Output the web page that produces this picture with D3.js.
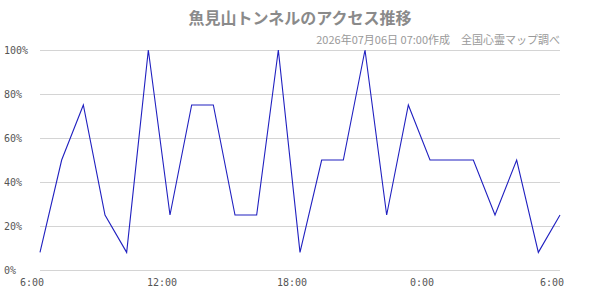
<!DOCTYPE html>
<html>
<head>
<meta charset="utf-8">
<script src="https://cdn.jsdelivr.net/npm/d3@7"></script>
<style>
  body { margin: 0; background: #fff; }
  svg { display: block; }
</style>
</head>
<body>
<div id="chart"></div>
<script>
// hourly access, 6:00 -> 6:00 next day
const hours = d3.range(0, 25);
const values = [8, 50, 75, 25, 8, 100, 25, 75, 75, 25, 25, 100, 8, 50, 50, 100, 25, 75, 50, 50, 50, 25, 50, 8, 25];
const yTicks = [0, 20, 40, 60, 80, 100];
const xTickPos = [0, 6, 12, 18, 24];
const xTickLabels = ["6:00", "12:00", "18:00", "0:00", "6:00"];
const title = "魚見山トンネルのアクセス推移";
const subtitle = "2026年07月06日 07:00作成　全国心霊マップ調べ";

const width = 600, height = 300;
const margin = { top: 50, right: 40, bottom: 30, left: 40 };

const svg = d3.select("#chart").append("svg")
    .attr("width", width)
    .attr("height", height);

const xScale = d3.scaleLinear().domain([0, 24]).range([margin.left, width - margin.right]);
const yScale = d3.scaleLinear().domain([0, 100]).range([height - margin.bottom, margin.top]);

// grid
svg.append("g")
    .selectAll("line")
    .data(yTicks)
    .join("line")
    .attr("x1", xScale(0))
    .attr("x2", xScale(24))
    .attr("y1", d => Math.round(yScale(d)) + 0.5)
    .attr("y2", d => Math.round(yScale(d)) + 0.5)
    .attr("stroke", "#d4d4d4")
    .attr("stroke-width", 1);

// y labels
svg.append("g")
    .selectAll("text")
    .data(yTicks)
    .join("text")
    .attr("x", 4)
    .attr("y", d => yScale(d))
    .attr("dy", "0.35em")
    .attr("font-family", "DejaVu Sans Mono")
    .attr("font-size", 10)
    .attr("fill", "#555")
    .text(d => d + "%");

// x labels
svg.append("g")
    .selectAll("text")
    .data(xTickPos)
    .join("text")
    .attr("x", d => xScale(d) - 8)
    .attr("y", height - margin.bottom + 12)
    .attr("dy", "0.35em")
    .attr("text-anchor", "middle")
    .attr("font-family", "DejaVu Sans Mono")
    .attr("font-size", 10)
    .attr("fill", "#555")
    .text((d, i) => xTickLabels[i]);

// line
const line = d3.line()
    .x((d, i) => xScale(hours[i]))
    .y(d => yScale(d));

svg.append("path")
    .datum(values)
    .attr("fill", "none")
    .attr("stroke", "#2020c0")
    .attr("stroke-width", 1.1)
    .attr("d", line);

// titles
svg.append("text")
    .attr("x", 300)
    .attr("y", 24)
    .attr("text-anchor", "middle")
    .attr("font-family", "Noto Sans CJK JP")
    .attr("font-weight", "bold")
    .attr("font-size", 16)
    .attr("fill", "#8a8a8a")
    .text(title);

svg.append("text")
    .attr("x", xScale(24))
    .attr("y", 44)
    .attr("text-anchor", "end")
    .attr("font-family", "Noto Sans CJK JP")
    .attr("font-size", 11)
    .attr("fill", "#999")
    .text(subtitle);
</script>
</body>
</html>
